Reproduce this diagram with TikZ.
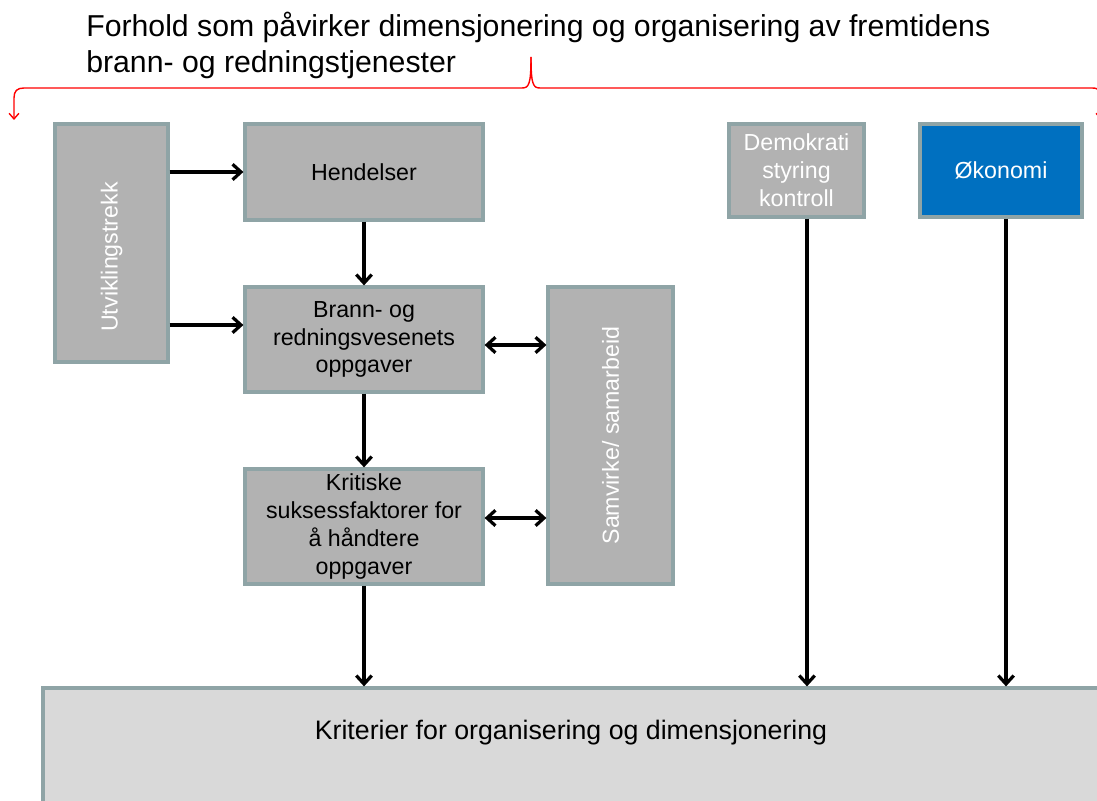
\documentclass[tikz,border=0pt]{standalone}
\usepackage{fontspec}
\setmainfont{Liberation Sans}
\usetikzlibrary{positioning,arrows.meta}
\definecolor{boxgrey}{HTML}{B2B2B2}
\definecolor{boxedge}{HTML}{8FA4A6}
\definecolor{okblue}{HTML}{0070C0}
\definecolor{basegrey}{HTML}{D9D9D9}
\newlength{\px}\setlength{\px}{0.025cm}
\begin{document}
\begin{tikzpicture}[
  x=\px, y=-\px,
  box/.style={draw=boxedge,line width=2.3pt,fill=boxgrey,align=center,inner sep=0pt,
    font=\fontsize{16.5}{19.8}\selectfont},
  whitebox/.style={box,text=white},
  rotlabel/.style={rotate=90,text=white,font=\fontsize{16.5}{19.8}\selectfont},
  arr/.style={line width=2.3pt,-{Straight Barb[length=6pt,width=11pt]}},
  twoway/.style={line width=2.3pt,{Straight Barb[length=6pt,width=11pt]}-{Straight Barb[length=6pt,width=11pt]}},
  brace/.style={red,line width=1pt,-{Straight Barb[length=4pt,width=7pt]}}
]
  \useasboundingbox (0,0) rectangle (1097,801);

  % heading
  \node[anchor=base west,align=left,inner sep=0pt,font=\fontsize{21.5}{26}\selectfont] (title) at (86,73)
    {Forhold som påvirker dimensjonering og organisering av fremtidens\\brann- og redningstjenester};

  % red brace
  \coordinate (bc) at (531,57);
  \coordinate (bl) at (14,120);
  \coordinate (br) at (1101,120);
  \draw[brace] (bc) .. controls (531,84) and (529,88) .. (522,88) -- (24,88)
    .. controls (17,88) and (14,91) .. (14,98) -- (bl);
  \draw[brace] (bc) .. controls (531,84) and (533,88) .. (540,88) -- (1092,88)
    .. controls (1099,88) and (1101,91) .. (1101,98) -- (br);

  % left column
  \node[box,minimum width=113*\px,minimum height=238*\px] (utv) at (111.5,243) {};
  \node[rotlabel] at ([yshift=-14*\px]utv.center) {Utviklingstrekk};

  % middle column
  \node[box,minimum width=238*\px,minimum height=96*\px] (hend) at (364,172) {Hendelser};
  \node[box,minimum width=238*\px,minimum height=105*\px] (brann) at (364,339.5)
    {Brann- og\\redningsvesenets\\oppgaver};
  \node[box,minimum width=238*\px,minimum height=115*\px] (krit) at (364,526.5)
    {Kritiske\\suksessfaktorer for\\å håndtere\\oppgaver};

  % cooperation
  \node[box,minimum width=125*\px,minimum height=297*\px] (samv) at (610.5,435.5) {};
  \node[rotlabel] at (samv.center) {Samvirke/ samarbeid};

  % right boxes
  \node[whitebox,minimum width=135*\px,minimum height=93*\px] (demo) at (796.5,170.5)
    {Demokrati\\styring\\kontroll};
  \node[whitebox,fill=okblue,minimum width=162*\px,minimum height=93*\px] (okon) at (1001,170.5) {Økonomi};

  % bottom bar
  \node[draw=boxedge,line width=2.3pt,fill=basegrey,inner sep=0pt,
    minimum width=1067*\px,minimum height=142*\px] (krits) at (576.5,759) {};
  \node[font=\fontsize{19}{22}\selectfont] (kritstext) at (571,733) {Kriterier for organisering og dimensjonering};

  % arrow rows and columns
  \coordinate (rowb) at (0,325);
  \coordinate (rowk) at (0,518);
  \coordinate (rows) at (0,345);
  \coordinate (dcol) at (807,0);
  \coordinate (ocol) at (1006,0);

  \draw[arr] (utv.east |- hend) -- (hend.west);
  \draw[arr] (utv.east |- rowb) -- (brann.west |- rowb);
  \draw[arr] (hend) -- (brann);
  \draw[arr] (brann) -- (krit);
  \draw[twoway] (brann.east |- rows) -- (samv.west |- rows);
  \draw[twoway] (krit.east |- rowk) -- (samv.west |- rowk);
  \draw[arr] (krit.south) -- (krits.north -| krit.south);
  \draw[arr] (demo.south -| dcol) -- (krits.north -| dcol);
  \draw[arr] (okon.south -| ocol) -- (krits.north -| ocol);
\end{tikzpicture}
\end{document}
